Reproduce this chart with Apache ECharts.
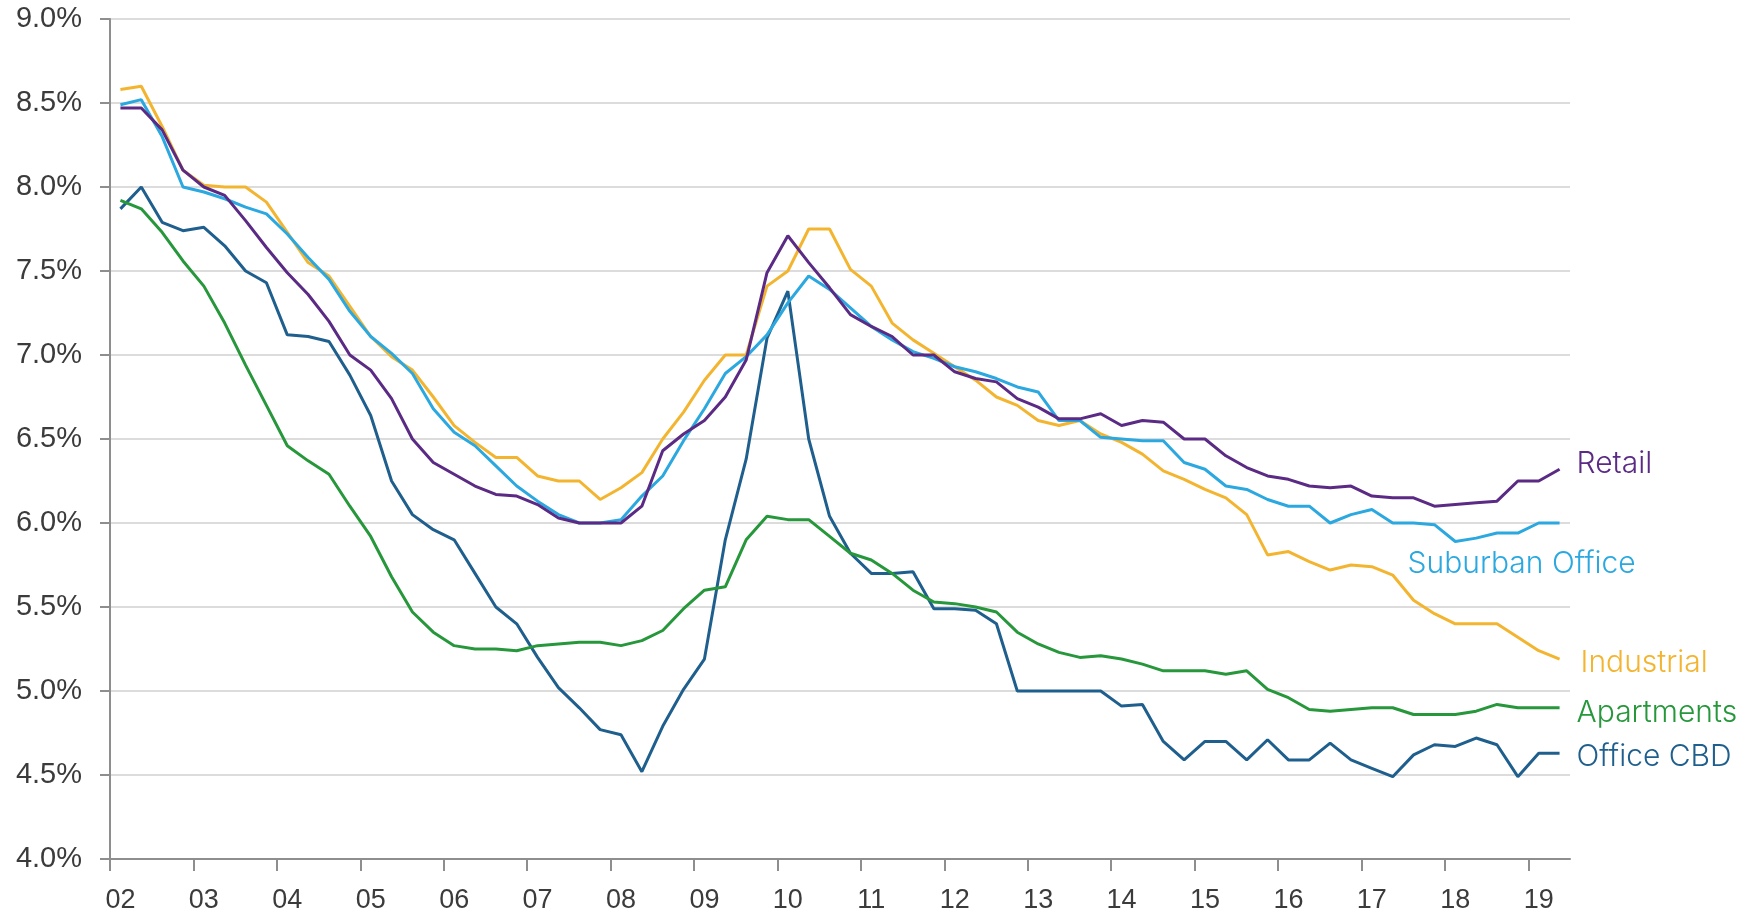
<!DOCTYPE html>
<html>
<head>
<meta charset="utf-8">
<title>Cap rates by sector</title>
<script src="https://cdn.jsdelivr.net/npm/echarts@6/dist/echarts.min.js"></script>
<style>
  html, body { margin: 0; padding: 0; background: #ffffff; }
  #chart { width: 1752px; height: 914px; }
</style>
</head>
<body>
<div id="chart"></div>
<script>
// Year tick labels (two-digit years); each year holds four quarters, the last one two.
const yearLabels = ['02','03','04','05','06','07','08','09','10','11','12','13','14','15','16','17','18','19'];
const quartersInLastYear = 2;

// Y axis range and step (yield, %)
const yMin = 4.0;
const yMax = 9.0;
const yStep = 0.5;

// Quarterly yields, %, 2002 Q1 .. 2019 Q2
const retail = [
  8.47, 8.47, 8.34, 8.10, 8.00, 7.95, 7.80, 7.64, 7.49, 7.36,
  7.20, 7.00, 6.91, 6.74, 6.50, 6.36, 6.29, 6.22, 6.17, 6.16,
  6.11, 6.03, 6.00, 6.00, 6.00, 6.10, 6.43, 6.53, 6.61, 6.75,
  6.97, 7.49, 7.71, 7.55, 7.40, 7.24, 7.17, 7.11, 7.00, 7.00,
  6.90, 6.86, 6.84, 6.74, 6.69, 6.62, 6.62, 6.65, 6.58, 6.61,
  6.60, 6.50, 6.50, 6.40, 6.33, 6.28, 6.26, 6.22, 6.21, 6.22,
  6.16, 6.15, 6.15, 6.10, 6.11, 6.12, 6.13, 6.25, 6.25, 6.32
];
const suburbanOffice = [
  8.49, 8.52, 8.30, 8.00, 7.97, 7.93, 7.88, 7.84, 7.72, 7.58,
  7.45, 7.26, 7.11, 7.01, 6.89, 6.68, 6.54, 6.46, 6.34, 6.22,
  6.13, 6.05, 6.00, 6.00, 6.02, 6.16, 6.28, 6.49, 6.68, 6.89,
  6.99, 7.12, 7.31, 7.47, 7.39, 7.28, 7.17, 7.09, 7.02, 6.98,
  6.93, 6.90, 6.86, 6.81, 6.78, 6.61, 6.61, 6.51, 6.50, 6.49,
  6.49, 6.36, 6.32, 6.22, 6.20, 6.14, 6.10, 6.10, 6.00, 6.05,
  6.08, 6.00, 6.00, 5.99, 5.89, 5.91, 5.94, 5.94, 6.00, 6.00
];
const industrial = [
  8.58, 8.60, 8.36, 8.10, 8.01, 8.00, 8.00, 7.91, 7.73, 7.55,
  7.47, 7.29, 7.11, 6.99, 6.91, 6.75, 6.58, 6.48, 6.39, 6.39,
  6.28, 6.25, 6.25, 6.14, 6.21, 6.30, 6.50, 6.66, 6.85, 7.00,
  7.00, 7.41, 7.50, 7.75, 7.75, 7.51, 7.41, 7.19, 7.09, 7.01,
  6.93, 6.85, 6.75, 6.70, 6.61, 6.58, 6.61, 6.53, 6.48, 6.41,
  6.31, 6.26, 6.20, 6.15, 6.05, 5.81, 5.83, 5.77, 5.72, 5.75,
  5.74, 5.69, 5.54, 5.46, 5.40, 5.40, 5.40, 5.32, 5.24, 5.19
];
const apartments = [
  7.92, 7.87, 7.73, 7.56, 7.41, 7.19, 6.94, 6.70, 6.46, 6.37,
  6.29, 6.10, 5.92, 5.68, 5.47, 5.35, 5.27, 5.25, 5.25, 5.24,
  5.27, 5.28, 5.29, 5.29, 5.27, 5.30, 5.36, 5.49, 5.60, 5.62,
  5.90, 6.04, 6.02, 6.02, 5.92, 5.82, 5.78, 5.70, 5.60, 5.53,
  5.52, 5.50, 5.47, 5.35, 5.28, 5.23, 5.20, 5.21, 5.19, 5.16,
  5.12, 5.12, 5.12, 5.10, 5.12, 5.01, 4.96, 4.89, 4.88, 4.89,
  4.90, 4.90, 4.86, 4.86, 4.86, 4.88, 4.92, 4.90, 4.90, 4.90
];
const officeCBD = [
  7.87, 8.00, 7.79, 7.74, 7.76, 7.65, 7.50, 7.43, 7.12, 7.11,
  7.08, 6.88, 6.64, 6.25, 6.05, 5.96, 5.90, 5.70, 5.50, 5.40,
  5.20, 5.02, 4.90, 4.77, 4.74, 4.52, 4.79, 5.01, 5.19, 5.90,
  6.38, 7.10, 7.38, 6.50, 6.04, 5.82, 5.70, 5.70, 5.71, 5.49,
  5.49, 5.48, 5.40, 5.00, 5.00, 5.00, 5.00, 5.00, 4.91, 4.92,
  4.70, 4.59, 4.70, 4.70, 4.59, 4.71, 4.59, 4.59, 4.69, 4.59,
  4.54, 4.49, 4.62, 4.68, 4.67, 4.72, 4.68, 4.49, 4.63, 4.63
];

// One category per quarter, e.g. "02 Q1"
const categories = [];
yearLabels.forEach(function (y, k) {
  const n = (k === yearLabels.length - 1) ? quartersInLastYear : 4;
  for (let q = 1; q <= n; q++) categories.push(y + ' Q' + q);
});

// Plot box
const chartW = 1752;
const gridLeft = 110, gridRight = 182, gridTop = 19, gridBottom = 54;
const plotW = chartW - gridLeft - gridRight;

// Year ticks sit on the quarter boundaries at the start of each year; they run on a
// helper value axis whose span ends at the start of the final year.
const lastYearStart = 4 * (yearLabels.length - 1);
const tickGridRight = gridRight + plotW * (categories.length - lastYearStart) / categories.length;

const axisGrey = '#8e8e8e';
const tickText = '#3b3b3b';
const tickFont = '"Liberation Sans", Arial, sans-serif';
const labelFont = 'Inter, "Liberation Sans", sans-serif';

// Drawing order: later entries sit on top
const seriesDefs = [
  { name: 'Office CBD',      data: officeCBD,      color: '#1f5f8d', offset: [17, 4] },
  { name: 'Apartments',      data: apartments,     color: '#27973b', offset: [17, 5] },
  { name: 'Industrial',      data: industrial,     color: '#f3b530', offset: [21, 4] },
  { name: 'Suburban Office', data: suburbanOffice, color: '#2ba8e0', offset: [-152, 41] },
  { name: 'Retail',          data: retail,         color: '#5b2a84', offset: [17, -5] }
];

const chart = echarts.init(document.getElementById('chart'), null, { renderer: 'canvas' });

chart.setOption({
  animation: false,
  backgroundColor: '#ffffff',
  grid: [
    { left: gridLeft, right: gridRight, top: gridTop, bottom: gridBottom, containLabel: false },
    { left: gridLeft, right: tickGridRight, top: gridTop, bottom: gridBottom, containLabel: false }
  ],
  xAxis: [
    {
      type: 'category',
      gridIndex: 0,
      data: categories,
      boundaryGap: true,
      axisLine: { onZero: false, lineStyle: { color: axisGrey, width: 2 } },
      axisTick: { show: false },
      axisLabel: {
        interval: 3,
        formatter: function (v) { return v.slice(0, 2); },
        margin: 28,
        fontSize: 27,
        color: tickText,
        fontFamily: tickFont
      },
      splitLine: { show: false }
    },
    {
      type: 'value',
      gridIndex: 1,
      min: 0,
      max: lastYearStart,
      interval: 4,
      axisLine: { show: false, onZero: false },
      axisTick: { show: true, length: 11, lineStyle: { color: axisGrey, width: 2 } },
      axisLabel: { show: false },
      splitLine: { show: false }
    }
  ],
  yAxis: [
    {
      type: 'value',
      gridIndex: 0,
      min: yMin,
      max: yMax,
      interval: yStep,
      axisLine: { show: true, lineStyle: { color: axisGrey, width: 2 } },
      axisTick: { show: true, length: 10, lineStyle: { color: axisGrey, width: 2 } },
      axisLabel: {
        formatter: function (v) { return v.toFixed(1) + '%'; },
        margin: 28,
        fontSize: 29,
        color: tickText,
        fontFamily: tickFont
      },
      splitLine: { show: true, lineStyle: { color: '#dcdcdc', width: 2 } }
    },
    {
      type: 'value',
      gridIndex: 1,
      min: 0,
      max: 1,
      show: false
    }
  ],
  series: seriesDefs.map(function (s) {
    return {
      name: s.name,
      type: 'line',
      xAxisIndex: 0,
      yAxisIndex: 0,
      data: s.data,
      symbol: 'none',
      showSymbol: false,
      smooth: false,
      lineStyle: { color: s.color, width: 3 },
      itemStyle: { color: s.color },
      emphasis: { disabled: true },
      endLabel: {
        show: true,
        formatter: s.name,
        position: 'right',
        distance: 0,
        offset: s.offset,
        align: 'left',
        verticalAlign: 'middle',
        color: s.color,
        fontSize: 30,
        fontWeight: 300,
        fontFamily: labelFont
      }
    };
  })
});
</script>
</body>
</html>
